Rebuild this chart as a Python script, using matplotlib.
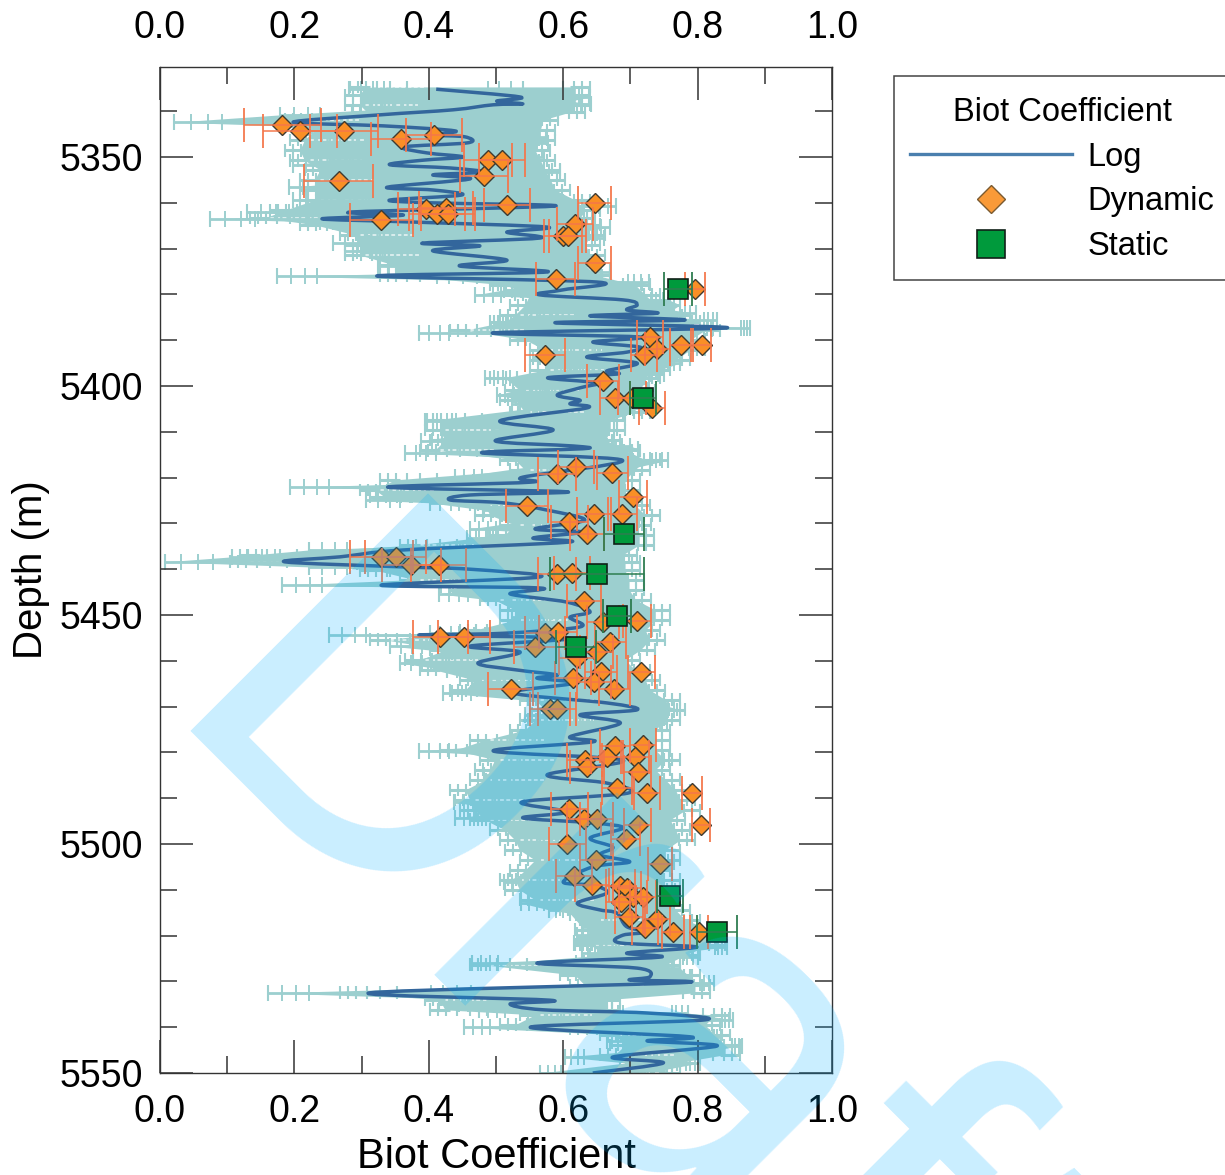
import numpy as np
from matplotlib import pyplot as plt
from matplotlib.lines import Line2D
from matplotlib.patches import PathPatch, Rectangle
from matplotlib.path import Path
from matplotlib.ticker import MultipleLocator

plt.rcParams['font.family'] = ['Liberation Sans', 'DejaVu Sans']

# log curve, turning points
log_depth = [5335.2,5336.9,5337.8,5338.4,5338.6,5339.7,5340.8,5342.4,5343.2,5344.3,5345.2,5345.6,5346.9,5347.8,5349.1,5350.0,5350.7,5351.7,5352.4,5353.3,5353.9,5354.8,5356.6,5357.2,5358.3,5359.4,5360.0,5360.7,5362.0,5362.7,5363.5,5364.2,5365.3,5366.4,5367.7,5368.8,5369.4,5370.5,5372.5,5373.8,5375.1,5376.0,5377.3,5379.0,5380.1,5381.2,5382.3,5383.4,5384.1,5384.7,5385.6,5386.2,5387.3,5388.4,5389.3,5390.4,5391.5,5392.6,5393.7,5395.0,5396.7,5397.4,5398.2,5399.3,5400.4,5402.0,5403.1,5403.9,5404.8,5407.6,5409.6,5412.0,5413.1,5413.7,5414.6,5416.2,5419.9,5421.0,5422.1,5423.1,5423.8,5424.9,5425.5,5427.1,5429.3,5431.2,5431.9,5433.2,5434.1,5435.8,5437.3,5438.4,5439.5,5440.0,5441.7,5443.5,5444.1,5445.4,5447.2,5449.3,5450.5,5452.6,5454.0,5454.4,5455.1,5456.8,5458.1,5460.5,5462.0,5463.1,5463.8,5464.9,5467.0,5469.2,5470.7,5471.8,5473.6,5476.6,5477.7,5479.7,5481.7,5484.9,5486.7,5488.9,5490.8,5493.0,5494.3,5495.4,5496.5,5498.7,5500.7,5502.4,5503.9,5505.0,5508.3,5509.0,5510.7,5512.9,5514.4,5515.1,5518.1,5519.2,5519.9,5521.6,5522.5,5523.8,5524.7,5526.0,5527.1,5529.0,5529.7,5530.3,5532.5,5534.1,5534.9,5536.2,5536.9,5538.4,5540.0,5542.1,5543.0,5544.1,5546.5,5547.8,5550.0]
log_biot = [.411,.536,.501,.540,.496,.436,.327,.198,.332,.439,.406,.454,.458,.362,.397,.451,.391,.342,.432,.481,.406,.461,.338,.406,.449,.342,.402,.588,.286,.362,.241,.376,.576,.516,.565,.391,.476,.406,.516,.446,.576,.323,.650,.600,.565,.689,.710,.695,.740,.640,.781,.588,.844,.496,.714,.644,.714,.695,.635,.710,.665,.680,.577,.650,.625,.591,.625,.610,.635,.506,.585,.499,.615,.629,.479,.688,.540,.551,.339,.606,.461,.432,.510,.576,.632,.558,.629,.555,.607,.362,.268,.186,.362,.461,.565,.329,.565,.521,.606,.640,.610,.625,.510,.387,.610,.461,.536,.473,.531,.591,.561,.615,.525,.665,.710,.625,.685,.610,.644,.496,.689,.576,.665,.696,.539,.606,.540,.644,.689,.640,.674,.655,.699,.644,.600,.644,.665,.621,.655,.680,.695,.729,.689,.685,.799,.695,.744,.561,.710,.729,.699,.774,.312,.580,.521,.570,.725,.811,.551,.789,.725,.829,.674,.749,.644]
log_err_frac = 0.22
# where the thin caps of the neighbouring samples fall along each bar
tick_fracs = [.6, .72, .86]

# solid part of the log error band, left and right edge by depth
band_depth = [5334.7,5336.5,5338.6,5340.2,5341.9,5344.1,5346.3,5348.5,5350.7,5352.8,
	5355.0,5357.2,5359.4,5361.6,5363.3,5364.8,5367.0,5369.2,5371.4,5373.6,
	5375.8,5377.9,5380.1,5382.3,5384.5,5386.0,5387.8,5389.9,5392.1,5394.3,
	5396.5,5398.2,5400.9,5403.0,5405.7,5407.4,5409.6,5411.8,5414.0,5416.1,
	5418.3,5420.5,5422.7,5424.2,5426.0,5428.2,5430.3,5432.5,5434.7,5436.9,
	5438.4,5440.2,5442.3,5444.5,5446.7,5448.9,5451.1,5453.3,5455.4,5457.6,
	5459.8,5462.0,5464.2,5466.4,5468.5,5470.7,5472.9,5475.1,5477.3,5479.5,
	5481.6,5483.8,5486.0,5488.2,5490.4,5492.6,5494.7,5496.9,5499.1,5501.3,
	5503.5,5505.7,5507.8,5510.0,5512.2,5514.4,5516.6,5518.7,5522.0,5524.2,
	5526.4,5528.6,5530.8,5532.5,5534.0,5536.2,5537.3,5539.5,5541.7,5543.9,
	5546.0,5548.2,5550.0]
band_left = np.array([.283,.275,.275,.286,.186,.208,.193,.186,.193,.216,
	.208,.208,.208,.164,.134,.208,.268,.275,.275,.327,
	.327,.491,.528,.521,.506,.491,.432,.521,.551,.551,
	.551,.491,.513,.506,.521,.394,.394,.402,.387,.506,
	.521,.327,.298,.312,.461,.469,.506,.491,.357,.119,
	.104,.298,.357,.432,.476,.506,.506,.446,.312,.402,
	.365,.387,.446,.432,.536,.551,.536,.521,.461,.417,
	.476,.469,.461,.432,.439,.446,.461,.491,.506,.513,
	.536,.521,.506,.513,.536,.595,.625,.618,.618,.640,
	.461,.595,.610,.268,.394,.402,.536,.506,.655,.670,
	.655,.685,.670])
band_right = np.array([.640,.640,.640,.632,.592,.588,.588,.580,.588,.595,
	.603,.610,.640,.655,.647,.655,.662,.655,.662,.655,
	.670,.729,.744,.759,.789,.804,.833,.811,.811,.789,
	.759,.744,.737,.729,.729,.692,.692,.685,.714,.744,
	.729,.714,.714,.714,.729,.744,.730,.735,.735,.710,
	.714,.714,.720,.720,.730,.759,.759,.744,.751,.737,
	.714,.729,.744,.751,.774,.781,.774,.759,.759,.759,
	.774,.759,.774,.789,.796,.804,.781,.789,.796,.774,
	.774,.759,.774,.766,.774,.789,.804,.841,.841,.804,
	.774,.804,.818,.818,.685,.685,.848,.833,.848,.863,
	.863,.774,.774])

dyn_depth = [5343.0,5344.3,5344.3,5346.1,5345.2,5350.7,5350.7,5354.1,5355.2,5360.5,5361.4,5361.1,5362.4,5362.4,5363.8,5360.0,5364.6,5367.3,5367.3,5373.2,5376.6,5378.8,5389.3,5391.9,5393.2,5391.0,5391.0,5393.2,5398.9,5402.6,5402.6,5404.8,5419.2,5417.7,5419.0,5424.2,5426.2,5428.0,5428.0,5429.7,5432.3,5437.3,5437.3,5439.1,5439.1,5441.0,5440.8,5446.9,5451.5,5451.3,5454.8,5454.8,5453.9,5453.7,5457.0,5455.9,5458.1,5459.4,5463.8,5462.5,5464.6,5466.2,5462.5,5466.2,5470.6,5470.6,5478.6,5478.4,5481.0,5481.7,5483.2,5481.0,5484.3,5487.8,5488.9,5488.9,5492.4,5494.6,5494.6,5495.9,5495.9,5498.9,5500.0,5503.5,5504.4,5507.0,5509.0,5509.2,5509.7,5511.6,5511.6,5512.7,5516.0,5516.4,5518.4,5519.2,5519.2]
dyn_biot = [.182,.208,.274,.359,.408,.488,.509,.482,.266,.516,.396,.426,.412,.429,.329,.647,.618,.600,.607,.647,.589,.796,.729,.740,.720,.775,.807,.573,.659,.677,.702,.732,.591,.619,.673,.704,.546,.646,.688,.609,.635,.329,.351,.374,.415,.591,.613,.631,.659,.710,.417,.452,.573,.592,.558,.670,.650,.621,.615,.656,.646,.676,.716,.522,.580,.591,.677,.719,.665,.632,.635,.707,.711,.680,.725,.792,.609,.631,.650,.711,.805,.693,.606,.649,.744,.616,.643,.685,.695,.704,.719,.686,.698,.740,.722,.763,.802]
dyn_err_frac = 0.07

sta_depth = [5378.8,5402.6,5432.3,5441.0,5450.2,5457.0,5511.4,5519.2]
sta_biot = [.771,.719,.690,.650,.680,.619,.759,.829]
sta_err = [.021,.019,.030,.070,.021,.030,.019,.030]

teal = '#9CCFCF'
blue = '#33669C'
orange = '#F98F26'

def smooth_path(x, y):
	# catmull-rom through the read points so the wiggles come out round
	pts = np.column_stack([x, y])
	verts = [pts[0]]
	codes = [Path.MOVETO]
	for i in range(0, len(pts)-1):
		a = pts[max(i-1, 0)]
		d = pts[min(i+2, len(pts)-1)]
		verts += [pts[i]+(pts[i+1]-a)/6, pts[i+1]-(d-pts[i])/6, pts[i+1]]
		codes += [Path.CURVE4]*3
	return Path(verts, codes)

fig = plt.figure(figsize=(12.25, 11.75), dpi=100)
ax = fig.add_axes([160/1225, 1-1073/1175, 672/1225, 1006/1175])

log_depth = np.array(log_depth)
log_biot = np.array(log_biot)
log_err = log_err_frac*(1-log_biot)
band_depth = np.array(band_depth)

# solid band, pulled in a bit so the ticks make the rough edge
ax.fill_betweenx(band_depth, band_left+.022, band_right-.022, color=teal, lw=0, zorder=1)
ax.fill_betweenx(log_depth, log_biot-log_err, log_biot+log_err, color=teal, lw=0, zorder=1)
# white slits between the bars near the left edge
ax.hlines(band_depth[::2], band_left[::2]+.03, band_left[::2]+.11, color='white', lw=1.1, ls=(0, (2.5, 1.6)), alpha=.8, zorder=1.1)
for off in [0, .012, .024, .04, .06, .085]:
	ax.vlines(band_left+off, band_depth-1.4, band_depth+1.4, color=teal, lw=1.5, zorder=1.2)
for off in [0, .012, .024, .04]:
	ax.vlines(band_right-off, band_depth-1.4, band_depth+1.4, color=teal, lw=1.5, zorder=1.2)
ax.hlines(band_depth, band_left, band_left+.03, color=teal, lw=2.2, zorder=1.2)
ax.hlines(band_depth, band_right-.03, band_right, color=teal, lw=2.2, zorder=1.2)

ax.errorbar(log_biot, log_depth, xerr=log_err, fmt='none', ecolor=teal, elinewidth=2, capsize=6, capthick=1.5, zorder=1.2)
for f in tick_fracs:
	ax.vlines(log_biot-f*log_err, log_depth-1.7, log_depth+1.7, color=teal, lw=1.4, zorder=1.2)
	ax.vlines(log_biot+f*log_err, log_depth-1.7, log_depth+1.7, color=teal, lw=1.4, zorder=1.2)
ax.add_patch(PathPatch(smooth_path(log_biot, log_depth), fill=False, edgecolor=blue, lw=2.5, joinstyle='round', zorder=2))

dyn_biot = np.array(dyn_biot)
ax.plot(dyn_biot, dyn_depth, ls='none', marker='D', ms=10.6, mfc=orange, mec='#3F3A30', mew=1, zorder=3)
ax.errorbar(dyn_biot, dyn_depth, xerr=dyn_err_frac*(1-dyn_biot), fmt='none', ecolor='#F4764A', elinewidth=1.2, capsize=12.5, capthick=1.4, alpha=.9, zorder=4)

ax.plot(sta_biot, sta_depth, ls='none', marker='s', ms=14, mfc='#009A3C', mec='#102018', mew=1.2, zorder=5)
ax.errorbar(sta_biot, sta_depth, xerr=sta_err, fmt='none', ecolor='#2E7D50', elinewidth=1.1, capsize=12.5, capthick=1.3, zorder=6)

ax.set_xlim(0, 1)
ax.set_ylim(5550, 5330.35)
ax.xaxis.set_major_locator(MultipleLocator(0.2))
ax.xaxis.set_minor_locator(MultipleLocator(0.1))
ax.yaxis.set_major_locator(MultipleLocator(50))
ax.yaxis.set_minor_locator(MultipleLocator(10))
ax.tick_params(which='major', direction='in', length=24, width=1.1, color='#333333', top=True, right=True, labeltop=True, labelsize=27)
ax.tick_params(which='minor', direction='in', length=12, width=1.1, color='#333333', top=True, right=True)
ax.tick_params(axis='x', which='major', pad=15)
ax.tick_params(axis='y', which='major', pad=12.5)
ax.xaxis.set_major_formatter(lambda v, p: '%.1f' % v)
for s in ax.spines.values():
	s.set_linewidth(1.0)
	s.set_color('#333333')
ax.set_xlabel('Biot Coefficient', fontsize=30, labelpad=5)
ax.set_ylabel('Depth (m)', fontsize=29, labelpad=6.5)

# frame by hand, the legend's own one cannot keep the extra room above the title
fig.add_artist(Rectangle((894/1225, 1-280/1175), 346/1225, 204/1175, transform=fig.transFigure,
	facecolor='white', edgecolor='#444444', lw=1.1, zorder=2))
handles = [
	Line2D([], [], color='#4A7FAE', lw=2.4),
	Line2D([], [], ls='none', marker='D', ms=14.5, mfc='#F99A38', mec='#7A5A30', mew=1),
	Line2D([], [], ls='none', marker='s', ms=20, mfc='#009A3C', mec='#102018', mew=1.2),
]
leg = fig.legend(handles, ['Log', 'Dynamic', 'Static'], title='Biot Coefficient', loc='upper left',
	bbox_to_anchor=(894/1225, 1-81/1175), bbox_transform=fig.transFigure, borderaxespad=0,
	fontsize=23.5, title_fontsize=23.5, frameon=False,
	handlelength=4.95, handletextpad=.5, borderpad=.49, labelspacing=.42)
leg.set_zorder(3)

# watermark sits on top of everything
fig.text(149/1225, 1-730/1175, 'Draft', fontsize=352, rotation=-45, rotation_mode='anchor', ha='left', va='baseline',
	color='#00AEFF', alpha=.21, zorder=20)

fig.savefig('out.png', dpi=100)
